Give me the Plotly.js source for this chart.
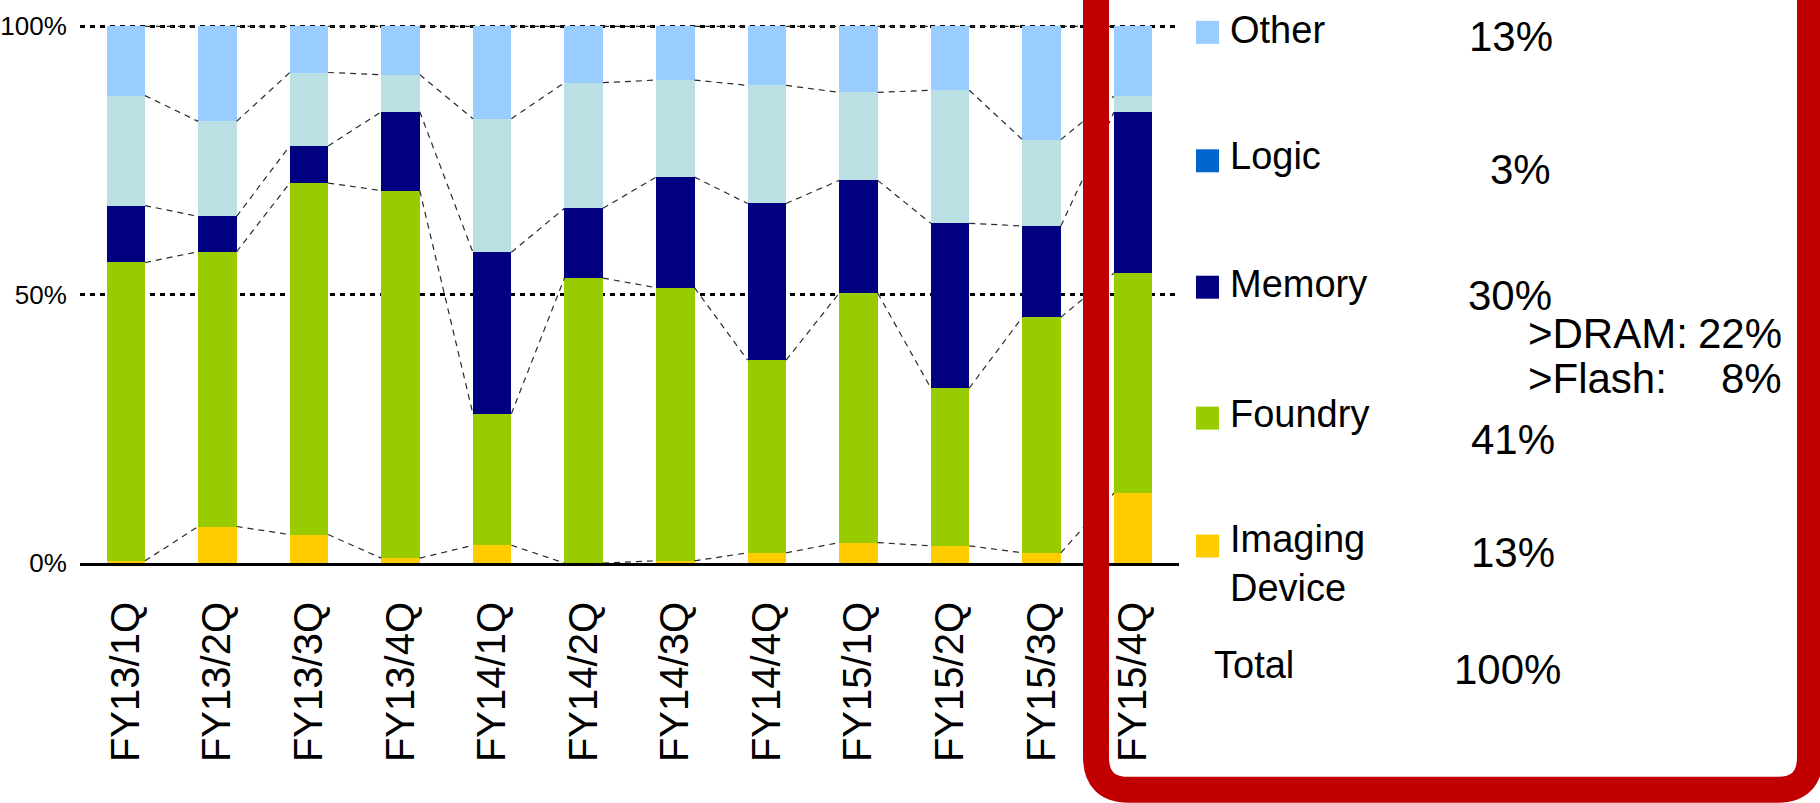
<!DOCTYPE html>
<html>
<head>
<meta charset="utf-8">
<script src="https://cdn.plot.ly/plotly-3.0.1.min.js"></script>
<style>
  html, body { margin: 0; padding: 0; background: #ffffff; }
  #chart { width: 1820px; height: 803px; }
</style>
</head>
<body>
<div id="chart"></div>
<script>
// Quarterly sales mix by application (% of total)
const quarters = ['FY13/1Q', 'FY13/2Q', 'FY13/3Q', 'FY13/4Q', 'FY14/1Q', 'FY14/2Q',
                  'FY14/3Q', 'FY14/4Q', 'FY15/1Q', 'FY15/2Q', 'FY15/3Q', 'FY15/4Q'];
const imaging = [0.4, 6.8, 5.3, 0.9, 3.3, 0.0, 0.4, 1.9, 3.8, 3.2, 1.9, 13];
const foundry = [55.6, 51.2, 65.5, 68.5, 24.5, 53.1, 50.9, 35.9, 46.5, 29.4, 43.9, 41];
const memory  = [10.6, 6.6, 6.9, 14.7, 30.1, 13.0, 20.6, 29.2, 21.0, 30.7, 17.0, 30];
const logic   = [20.5, 17.7, 13.7, 6.9, 24.9, 23.4, 18.1, 22.0, 16.4, 24.8, 16.1, 3];
const other   = [12.9, 17.7, 8.6, 9.0, 17.2, 10.5, 10.0, 11.0, 12.3, 11.9, 21.1, 13];

// Memory breakdown for the latest quarter
const memoryDram = 22;
const memoryFlash = 8;

const yTickVals = [0, 50, 100];
const yTickText = ['0%', '50%', '100%'];

const seriesNames  = ['Imaging Device', 'Foundry', 'Memory', 'Logic', 'Other'];
const seriesValues = [imaging, foundry, memory, logic, other];
const barColors    = ['#FFCC00', '#99CC00', '#000080', '#BBE0E3', '#99CCFF'];

// ---- geometry of the page ----
const W = 1820, H = 803;
const yMax = 101;                            // a little headroom so the 100% grid line is kept
const M = { l: 80, r: 641, b: 240, t: 0 };
M.t = Math.round((H - M.b - 537 * yMax / 100) * 10) / 10;
const plotW = W - M.l - M.r, plotH = H - M.t - M.b;
const px = v => (v - M.l) / plotW;          // page pixel -> paper x
const py = v => (H - M.b - v) / plotH;      // page pixel -> paper y
const barWidth = 0.42;

const idx = quarters.map((q, i) => i);

// stacked bars
const traces = seriesValues.map((vals, k) => ({
  type: 'bar',
  name: seriesNames[k],
  x: idx,
  y: vals,
  width: barWidth,
  marker: { color: barColors[k], line: { width: 0 } },
  hoverinfo: 'skip',
  showlegend: false
}));

// dashed connectors between the segment boundaries of neighbouring bars
const cx = [], cy = [];
const running = quarters.map(() => 0);
seriesValues.forEach(vals => {
  vals.forEach((v, i) => { running[i] += v; });
  for (let i = 0; i < quarters.length - 1; i++) {
    cx.push(i + barWidth / 2, i + 1 - barWidth / 2, null);
    cy.push(running[i], running[i + 1], null);
  }
});
traces.push({
  type: 'scatter',
  mode: 'lines',
  x: cx,
  y: cy,
  line: { color: '#2a2a2a', width: 1.2, dash: '6px,5px' },
  connectgaps: false,
  hoverinfo: 'skip',
  showlegend: false
});

// ---- side panel: legend with latest-quarter shares ----
const last = quarters.length - 1;
const legendItems = [
  { label: 'Other',             color: '#99CCFF', value: other[last],   markY: 32,    textY: 29.5, valY: 36,  valX: 1555 },
  { label: 'Logic',             color: '#0066CC', value: logic[last],   markY: 160.5, textY: 156,  valY: 169, valX: 1553 },
  { label: 'Memory',            color: '#000080', value: memory[last],  markY: 287,   textY: 284,  valY: 295, valX: 1554 },
  { label: 'Foundry',           color: '#99CC00', value: foundry[last], markY: 418,   textY: 414,  valY: 439, valX: 1557 },
  { label: 'Imaging<br>Device', color: '#FFCC00', value: imaging[last], markY: 546,   textY: 564,  valY: 552, valX: 1557 }
];
const total = seriesValues.reduce((s, vals) => s + vals[last], 0);

const textFont = { family: 'Liberation Sans, Arial, sans-serif', size: 38, color: '#000000' };
const numFont  = { family: 'Liberation Sans, Arial, sans-serif', size: 42, color: '#000000' };

const annotations = [];
const shapes = [];
const markSize = 23;

legendItems.forEach(it => {
  shapes.push({
    type: 'rect', xref: 'paper', yref: 'paper', layer: 'above',
    x0: px(1196), x1: px(1196 + markSize),
    y0: py(it.markY + markSize / 2), y1: py(it.markY - markSize / 2),
    fillcolor: it.color, line: { width: 0 }
  });
  annotations.push({
    xref: 'paper', yref: 'paper', x: px(1228), y: py(it.textY),
    xanchor: 'left', yanchor: 'middle', align: 'left',
    text: it.label, showarrow: false, font: textFont
  });
  annotations.push({
    xref: 'paper', yref: 'paper', x: px(it.valX), y: py(it.valY),
    xanchor: 'right', yanchor: 'middle',
    text: Math.round(it.value) + '%', showarrow: false, font: numFont
  });
});

annotations.push(
  { xref: 'paper', yref: 'paper', x: px(1526), y: py(333), xanchor: 'left', yanchor: 'middle',
    text: '&gt;DRAM:', showarrow: false, font: numFont },
  { xref: 'paper', yref: 'paper', x: px(1784), y: py(333), xanchor: 'right', yanchor: 'middle',
    text: memoryDram + '%', showarrow: false, font: numFont },
  { xref: 'paper', yref: 'paper', x: px(1526), y: py(378), xanchor: 'left', yanchor: 'middle',
    text: '&gt;Flash:', showarrow: false, font: numFont },
  { xref: 'paper', yref: 'paper', x: px(1784), y: py(378), xanchor: 'right', yanchor: 'middle',
    text: memoryFlash + '%', showarrow: false, font: numFont },
  { xref: 'paper', yref: 'paper', x: px(1212), y: py(665), xanchor: 'left', yanchor: 'middle',
    text: 'Total', showarrow: false, font: textFont },
  { xref: 'paper', yref: 'paper', x: px(1563), y: py(670), xanchor: 'right', yanchor: 'middle',
    text: Math.round(total) + '%', showarrow: false, font: numFont }
);

// red rounded frame around the latest quarter and the panel (open at the top)
const fL = 1096, fR = 1810, fB = 790, fT = -60, rad = 33;
shapes.push({
  type: 'path', xref: 'paper', yref: 'paper', layer: 'above',
  path: `M ${px(fL)},${py(fT)} L ${px(fL)},${py(fB - rad)} ` +
        `Q ${px(fL)},${py(fB)} ${px(fL + rad)},${py(fB)} ` +
        `L ${px(fR - rad)},${py(fB)} Q ${px(fR)},${py(fB)} ${px(fR)},${py(fB - rad)} ` +
        `L ${px(fR)},${py(fT)}`,
  line: { color: '#C00000', width: 26 },
  fillcolor: 'rgba(0,0,0,0)'
});

const layout = {
  width: W, height: H,
  margin: M,
  paper_bgcolor: '#ffffff',
  plot_bgcolor: '#ffffff',
  barmode: 'stack',
  showlegend: false,
  xaxis: {
    range: [-0.5, quarters.length - 0.5],
    tickmode: 'array',
    tickvals: idx,
    ticktext: quarters,
    tickangle: -90,
    ticks: 'outside',
    ticklen: 20,
    tickcolor: 'rgba(0,0,0,0)',
    tickfont: { family: 'Liberation Sans, Arial, sans-serif', size: 40, color: '#000000' },
    showgrid: false,
    zeroline: false,
    showline: true,
    linecolor: '#000000',
    linewidth: 3,
    fixedrange: true
  },
  yaxis: {
    range: [0, yMax],
    tickmode: 'array',
    tickvals: yTickVals,
    ticktext: yTickText,
    ticks: 'outside',
    ticklen: 7,
    tickcolor: 'rgba(0,0,0,0)',
    tickfont: { family: 'Liberation Sans, Arial, sans-serif', size: 26, color: '#000000' },
    showgrid: true,
    gridcolor: '#000000',
    gridwidth: 3,
    griddash: '5px,5px',
    zeroline: false,
    showline: false,
    fixedrange: true
  },
  shapes: shapes,
  annotations: annotations
};

Plotly.newPlot('chart', traces, layout, { staticPlot: true, displayModeBar: false });
</script>
</body>
</html>
